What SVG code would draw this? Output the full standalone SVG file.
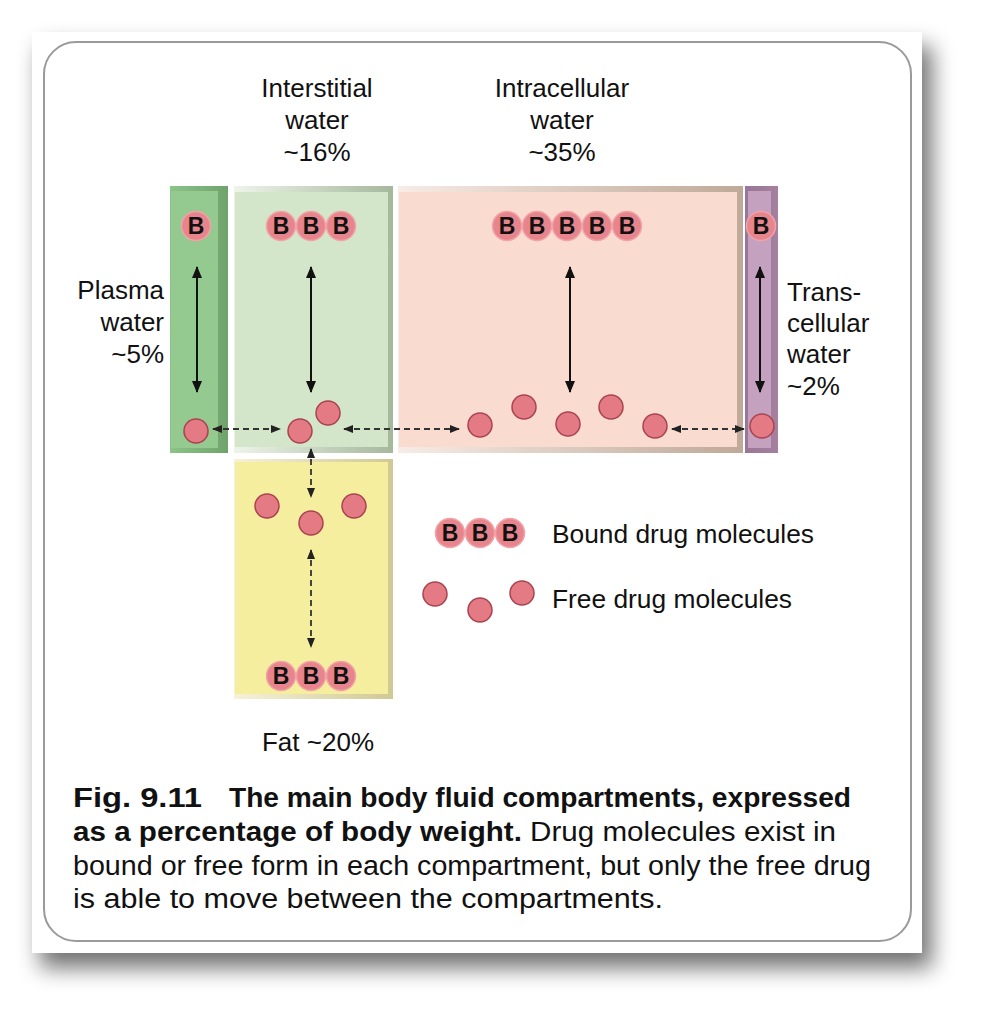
<svg xmlns="http://www.w3.org/2000/svg" width="987" height="1019" viewBox="0 0 987 1019">
<defs>
<style>
.lbl{font-family:"Liberation Sans",Arial,sans-serif;font-size:26px;fill:#111}
.cap{font-family:"Liberation Sans",Arial,sans-serif;font-size:27px;fill:#111}
.b{font-weight:bold}
.free{fill:#e47b84;stroke:#a9434f;stroke-width:1.5}
.bound{fill:#e8848b;stroke:#f0a3a8;stroke-width:1.5}
.bt{font-family:"Liberation Sans",Arial,sans-serif;font-size:23px;font-weight:bold;fill:#111;text-anchor:middle}
.solid{stroke:#111;stroke-width:2;fill:none;marker-start:url(#ah);marker-end:url(#ah)}
.dash{stroke:#333;stroke-width:1.8;stroke-dasharray:6 4;fill:none;marker-start:url(#ahs);marker-end:url(#ahs)}
</style>
<marker id="ah" viewBox="0 0 12 10" refX="11" refY="5" markerWidth="12" markerHeight="10" markerUnits="userSpaceOnUse" orient="auto-start-reverse"><path d="M0,0 L12,5 L0,10 z" fill="#111"/></marker>
<marker id="ahs" viewBox="0 0 10 8" refX="9" refY="4" markerWidth="10" markerHeight="8" markerUnits="userSpaceOnUse" orient="auto-start-reverse"><path d="M0,0 L10,4 L0,8 z" fill="#222"/></marker>
<filter id="sh" x="-10%" y="-10%" width="130%" height="130%"><feGaussianBlur stdDeviation="11"/></filter>
<linearGradient id="gInt" x1="0" y1="0" x2="1" y2="0"><stop offset="0" stop-color="#eef4ea"/><stop offset="1" stop-color="#a5b89c"/></linearGradient>
<linearGradient id="gIntra" x1="0" y1="0" x2="1" y2="0"><stop offset="0" stop-color="#f7ece6"/><stop offset="1" stop-color="#bfa998"/></linearGradient>
<linearGradient id="gFat" x1="0" y1="0" x2="1" y2="0"><stop offset="0" stop-color="#f6f2d8"/><stop offset="1" stop-color="#d0c994"/></linearGradient>
<linearGradient id="gPl" x1="0" y1="0" x2="1" y2="0"><stop offset="0" stop-color="#8cc388"/><stop offset="1" stop-color="#6fa36b"/></linearGradient>
<linearGradient id="gTr" x1="0" y1="0" x2="1" y2="0"><stop offset="0" stop-color="#9a7696"/><stop offset="1" stop-color="#a5809f"/></linearGradient>
</defs>

<!-- page with shadow -->
<rect x="40" y="46" width="892" height="922" fill="#000" opacity="0.55" filter="url(#sh)"/>
<rect x="32" y="32" width="890" height="921" fill="#fff"/>
<rect x="44" y="42" width="867" height="899" rx="32" ry="32" fill="#fff" stroke="#9a9a9a" stroke-width="2"/>

<!-- compartments -->
<g id="plasma">
<rect x="170" y="186" width="58" height="267" fill="url(#gPl)"/>
<rect x="171" y="191" width="47" height="257" fill="#94c98f"/>
</g>
<g id="interstitial">
<rect x="234" y="186" width="159" height="267" fill="url(#gInt)"/>
<rect x="235" y="192" width="153" height="255" fill="#d3e6c9"/>
</g>
<g id="intracellular">
<rect x="398" y="186" width="345" height="267" fill="url(#gIntra)"/>
<rect x="399" y="192" width="338" height="255" fill="#fadbd0"/>
</g>
<g id="transcellular">
<rect x="745" y="186" width="33" height="267" fill="url(#gTr)"/>
<rect x="748" y="191" width="23" height="257" fill="#c4a1bf"/>
</g>
<g id="fat">
<rect x="234" y="459" width="159" height="240" fill="url(#gFat)"/>
<rect x="235" y="462" width="153" height="232" fill="#f5ee9f"/>
</g>

<!-- connectors -->
<g id="connectors">
<line class="solid" x1="197" y1="267" x2="197" y2="392"/>
<line class="solid" x1="311" y1="267" x2="311" y2="392"/>
<line class="solid" x1="570" y1="267" x2="570" y2="392"/>
<line class="solid" x1="760" y1="267" x2="760" y2="392"/>
<line class="dash" x1="213" y1="429" x2="280" y2="429"/>
<line class="dash" x1="344" y1="429" x2="459" y2="429"/>
<line class="dash" x1="672" y1="429" x2="744" y2="429"/>
<line class="dash" x1="311" y1="449" x2="311" y2="497"/>
<line class="dash" x1="311" y1="550" x2="311" y2="647"/>
</g>

<!-- free molecules -->
<g id="free-molecules">
<circle class="free" cx="196" cy="431" r="12"/>
<circle class="free" cx="300" cy="431" r="12"/>
<circle class="free" cx="328" cy="413" r="12"/>
<circle class="free" cx="480" cy="425" r="12"/>
<circle class="free" cx="524" cy="407" r="12"/>
<circle class="free" cx="568" cy="424" r="12"/>
<circle class="free" cx="611" cy="407" r="12"/>
<circle class="free" cx="655" cy="426" r="12"/>
<circle class="free" cx="762" cy="426" r="12"/>
<circle class="free" cx="267" cy="506" r="12"/>
<circle class="free" cx="311" cy="523" r="12"/>
<circle class="free" cx="354" cy="506" r="12"/>
</g>

<!-- bound molecules -->
<g id="bound-molecules">
<circle class="bound" cx="196" cy="226" r="14.5"/><text class="bt" x="196" y="234">B</text>
<circle class="bound" cx="281" cy="226" r="14.5"/><circle class="bound" cx="311" cy="226" r="14.5"/><circle class="bound" cx="341" cy="226" r="14.5"/>
<text class="bt" x="281" y="234">B</text><text class="bt" x="311" y="234">B</text><text class="bt" x="341" y="234">B</text>
<circle class="bound" cx="507" cy="226" r="14.5"/><circle class="bound" cx="537" cy="226" r="14.5"/><circle class="bound" cx="567" cy="226" r="14.5"/><circle class="bound" cx="597" cy="226" r="14.5"/><circle class="bound" cx="627" cy="226" r="14.5"/>
<text class="bt" x="507" y="234">B</text><text class="bt" x="537" y="234">B</text><text class="bt" x="567" y="234">B</text><text class="bt" x="597" y="234">B</text><text class="bt" x="627" y="234">B</text>
<circle class="bound" cx="761" cy="226" r="14.5"/><text class="bt" x="761" y="234">B</text>
<circle class="bound" cx="281" cy="676" r="14.5"/><circle class="bound" cx="311" cy="676" r="14.5"/><circle class="bound" cx="341" cy="676" r="14.5"/>
<text class="bt" x="281" y="684">B</text><text class="bt" x="311" y="684">B</text><text class="bt" x="341" y="684">B</text>
</g>

<!-- labels -->
<g id="labels">
<text class="lbl" text-anchor="middle"><tspan x="317" y="97">Interstitial</tspan><tspan x="317" y="129">water</tspan><tspan x="317" y="161">~16%</tspan></text>
<text class="lbl" text-anchor="middle"><tspan x="562" y="97">Intracellular</tspan><tspan x="562" y="129">water</tspan><tspan x="562" y="161">~35%</tspan></text>
<text class="lbl" text-anchor="end"><tspan x="164" y="299">Plasma</tspan><tspan x="164" y="331">water</tspan><tspan x="164" y="363">~5%</tspan></text>
<text class="lbl"><tspan x="787" y="301">Trans-</tspan><tspan x="787" y="332">cellular</tspan><tspan x="787" y="363">water</tspan><tspan x="787" y="395">~2%</tspan></text>
<text class="lbl" x="318" y="751" text-anchor="middle">Fat ~20%</text>
</g>

<!-- legend -->
<g id="legend">
<circle class="bound" cx="450" cy="533" r="14.5"/><circle class="bound" cx="480" cy="533" r="14.5"/><circle class="bound" cx="510" cy="533" r="14.5"/>
<text class="bt" x="450" y="541">B</text><text class="bt" x="480" y="541">B</text><text class="bt" x="510" y="541">B</text>
<text class="lbl" x="552" y="543" textLength="262" lengthAdjust="spacingAndGlyphs">Bound drug molecules</text>
<circle class="free" cx="435" cy="594" r="12"/><circle class="free" cx="480" cy="610" r="12"/><circle class="free" cx="522" cy="593" r="12"/>
<text class="lbl" x="552" y="608" textLength="240" lengthAdjust="spacingAndGlyphs">Free drug molecules</text>
</g>

<!-- caption -->
<g id="caption">
<text class="cap b" x="73" y="807" textLength="129" lengthAdjust="spacingAndGlyphs">Fig. 9.11</text>
<text class="cap b" x="229" y="807" textLength="622" lengthAdjust="spacingAndGlyphs">The main body fluid compartments, expressed</text>
<text class="cap" x="73" y="841" textLength="763" lengthAdjust="spacingAndGlyphs"><tspan class="b">as a percentage of body weight.</tspan> Drug molecules exist in</text>
<text class="cap" x="73" y="875" textLength="798" lengthAdjust="spacingAndGlyphs">bound or free form in each compartment, but only the free drug</text>
<text class="cap" x="73" y="908" textLength="590" lengthAdjust="spacingAndGlyphs">is able to move between the compartments.</text>
</g>
</svg>
